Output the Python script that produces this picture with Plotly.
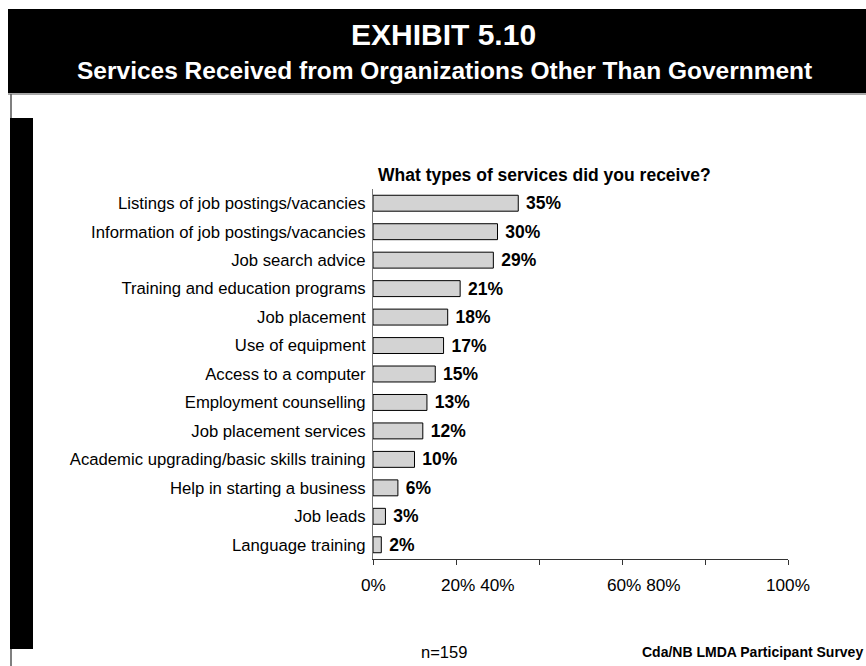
import plotly.graph_objects as go

categories = [
    "Listings of job postings/vacancies",
    "Information of job postings/vacancies",
    "Job search advice",
    "Training and education programs",
    "Job placement",
    "Use of equipment",
    "Access to a computer",
    "Employment counselling",
    "Job placement services",
    "Academic upgrading/basic skills training",
    "Help in starting a business",
    "Job leads",
    "Language training",
]
values = [35, 30, 29, 21, 18, 17, 15, 13, 12, 10, 6, 3, 2]
tick_marks = [0, 20, 40, 60, 80, 100]
tick_label_pos = [0, 25.4, 65.3, 100]
tick_label_text = ["0%", "20% 40%", "60% 80%", "100%"]

W, H = 866, 666
L, R, T, B = 373, 78, 189, 107
PW, PH = W - L - R, H - T - B

def px(x):
    return (x - L) / PW

def py(y):
    return (H - B - y) / PH

FONT = "Liberation Sans, Arial, sans-serif"

fig = go.Figure()
fig.add_trace(go.Bar(
    x=values, y=categories, orientation="h",
    marker=dict(color="#d3d3d3", line=dict(color="#000000", width=1)),
    text=[f"\u00a0{v}%" for v in values],
    textposition="outside",
    constraintext="none",
    textfont=dict(family=FONT, size=17.5, color="#000000", weight="bold"),
    cliponaxis=False,
    hoverinfo="skip",
))

fig.update_layout(
    width=W, height=H,
    margin=dict(l=L, r=R, t=T, b=B, pad=0),
    paper_bgcolor="white", plot_bgcolor="white",
    showlegend=False,
    bargap=0.44,
    font=dict(family=FONT, color="#000000"),
    xaxis=dict(
        range=[0, 100], tickvals=tick_marks, showticklabels=False,
        ticks="outside", ticklen=5, tickcolor="#333333",
        showline=True, linecolor="#333333", linewidth=1,
        showgrid=False, zeroline=False, fixedrange=True,
    ),
    yaxis=dict(
        autorange="reversed", ticks="", showline=True,
        linecolor="#777777", linewidth=1, showgrid=False,
        tickfont=dict(family=FONT, size=16.7, color="#000000"),
        ticklabelstandoff=3,
    ),
)

shapes = [
    dict(type="rect", xref="paper", yref="paper", x0=px(8), x1=px(866), y0=py(93), y1=py(9),
         fillcolor="#000000", line=dict(width=0), layer="above"),
    dict(type="line", xref="paper", yref="paper", x0=px(8), x1=px(866), y0=py(94), y1=py(94),
         line=dict(color="#8a8a8a", width=1.5)),
    dict(type="line", xref="paper", yref="paper", x0=px(11), x1=px(11), y0=py(94), y1=py(666),
         line=dict(color="#555555", width=1.5)),
    dict(type="rect", xref="paper", yref="paper", x0=px(10), x1=px(33), y0=py(649), y1=py(118),
         fillcolor="#000000", line=dict(width=0)),
]
fig.update_layout(shapes=shapes)

ann = [
    dict(text="EXHIBIT 5.10", x=px(443), y=py(34), xanchor="center", yanchor="middle",
         font=dict(family=FONT, size=30, color="white", weight="bold")),
    dict(text="Services Received from Organizations Other Than Government", x=px(444), y=py(71),
         xanchor="center", yanchor="middle",
         font=dict(family=FONT, size=24.5, color="white", weight="bold")),
    dict(text="What types of services did you receive?", x=px(376), y=py(175),
         xanchor="left", yanchor="middle",
         font=dict(family=FONT, size=17.5, color="#000000", weight="bold")),
    dict(text="n=159", x=px(444), y=py(652), xanchor="center", yanchor="middle",
         font=dict(family=FONT, size=16.5, color="#000000")),
    dict(text="Cda/NB LMDA Participant Survey", x=px(865), y=py(652), xanchor="right", yanchor="middle",
         font=dict(family=FONT, size=14, color="#000000", weight="bold")),
]
for a in ann:
    a.update(xref="paper", yref="paper", showarrow=False)
for pos, txt in zip(tick_label_pos, tick_label_text):
    ann.append(dict(text=txt, x=pos, xref="x", y=py(585), yref="paper",
                    xanchor="center", yanchor="middle", showarrow=False,
                    font=dict(family=FONT, size=17.2, color="#000000")))
fig.update_layout(annotations=ann)

fig.write_html("out.html", config={"displayModeBar": False})
